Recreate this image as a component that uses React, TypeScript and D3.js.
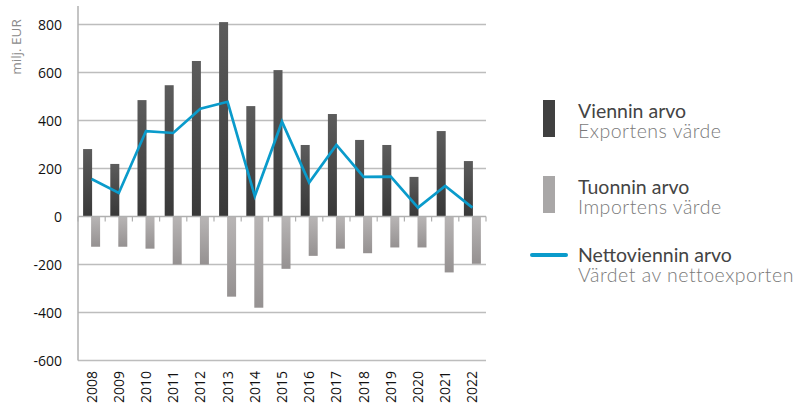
import React, { useEffect, useRef } from "react";
import * as d3 from "d3";

const years = ["2008", "2009", "2010", "2011", "2012", "2013", "2014", "2015", "2016", "2017", "2018", "2019", "2020", "2021", "2022"];
const exports = [281, 219, 485, 547, 648, 810, 460, 610, 298, 427, 319, 298, 165, 356, 231];
const imports = [-126, -126, -134, -200, -200, -334, -380, -218, -164, -134, -153, -129, -129, -233, -197];
const net = [156, 98, 356, 348, 449, 478, 85, 395, 141, 298, 165, 166, 37, 127, 37];
const yTicks = [800, 600, 400, 200, 0, -200, -400, -600];

const legendItems = [
  { fi: "Viennin arvo", sv: "Exportens värde", kind: "bar", color: "#404040" },
  { fi: "Tuonnin arvo", sv: "Importens värde", kind: "bar", color: "#a9a7a7" },
  { fi: "Nettoviennin arvo", sv: "Värdet av nettoexporten", kind: "line", color: "#0a9bcb" },
];

const App = () => {
  const svgRef = useRef<SVGSVGElement>(null);

  useEffect(() => {
    const svg = d3.select(svgRef.current);
    svg.selectAll("*").remove();

    const margin = { left: 78, right: 486, top: 6 };
    const x = d3.scaleBand().domain(years).range([margin.left, margin.right]).padding(0);
    const y = d3.scaleLinear().domain([-600, 800]).range([360.5, 24.5]);

    const defs = svg.append("defs");
    const g1 = defs.append("linearGradient").attr("id", "expGrad").attr("x1", 0).attr("y1", 0).attr("x2", 0).attr("y2", 1);
    g1.append("stop").attr("offset", "0%").attr("stop-color", "#5c5c5c");
    g1.append("stop").attr("offset", "100%").attr("stop-color", "#383838");
    const g2 = defs.append("linearGradient").attr("id", "impGrad").attr("x1", 0).attr("y1", 0).attr("x2", 0).attr("y2", 1);
    g2.append("stop").attr("offset", "0%").attr("stop-color", "#b8b5b5");
    g2.append("stop").attr("offset", "100%").attr("stop-color", "#959191");

    // gridlines
    svg.append("g")
      .selectAll("line")
      .data(yTicks.filter(d => d !== 0))
      .join("line")
      .attr("x1", margin.left)
      .attr("x2", margin.right)
      .attr("y1", d => y(d))
      .attr("y2", d => y(d))
      .attr("stroke", "#bdbdbd")
      .attr("stroke-width", 1.5);

    // y axis line
    svg.append("line")
      .attr("x1", margin.left).attr("x2", margin.left)
      .attr("y1", margin.top).attr("y2", y(-600))
      .attr("stroke", "#b0b0b0").attr("stroke-width", 1.5);

    svg.append("g")
      .selectAll("text")
      .data(yTicks)
      .join("text")
      .attr("x", 62)
      .attr("y", d => y(d) + 5)
      .attr("text-anchor", "end")
      .attr("font-family", "Open Sans")
      .attr("font-size", 14)
      .attr("fill", "#111")
      .text(d => d);

    svg.append("text")
      .attr("transform", "translate(21,47) rotate(-90)")
      .attr("text-anchor", "middle")
      .attr("font-family", "Open Sans")
      .attr("font-size", 13.5)
      .attr("fill", "#8a8a8a")
      .text("milj. EUR");

    const bw = 9;
    const off = 4;

    svg.append("g")
      .selectAll("rect")
      .data(exports)
      .join("rect")
      .attr("x", (d, i) => x(years[i])! + x.bandwidth() / 2 - off - bw / 2)
      .attr("y", d => y(d))
      .attr("width", bw)
      .attr("height", d => y(0) - y(d))
      .attr("fill", "url(#expGrad)");

    svg.append("g")
      .selectAll("rect")
      .data(imports)
      .join("rect")
      .attr("x", (d, i) => x(years[i])! + x.bandwidth() / 2 + off - bw / 2)
      .attr("y", y(0))
      .attr("width", bw)
      .attr("height", d => y(d) - y(0))
      .attr("fill", "url(#impGrad)");

    // zero axis with ticks
    svg.append("line")
      .attr("x1", margin.left).attr("x2", margin.right)
      .attr("y1", y(0)).attr("y2", y(0))
      .attr("stroke", "#b0b0b0").attr("stroke-width", 1.5);
    const bounds = years.map(yr => x(yr)!).concat([margin.right]);
    svg.append("g")
      .selectAll("line")
      .data(bounds)
      .join("line")
      .attr("x1", d => d).attr("x2", d => d)
      .attr("y1", y(0)).attr("y2", y(0) + 5)
      .attr("stroke", "#b0b0b0").attr("stroke-width", 1.2);

    const line = d3.line<number>()
      .x((d, i) => x(years[i])! + x.bandwidth() / 2)
      .y(d => y(d));
    svg.append("path")
      .datum(net)
      .attr("fill", "none")
      .attr("stroke", "#0a9bcb")
      .attr("stroke-width", 2.7)
      .attr("stroke-linejoin", "miter")
      .attr("d", line);

    svg.append("g")
      .selectAll("text")
      .data(years)
      .join("text")
      .attr("transform", d => `translate(${x(d)! + x.bandwidth() / 2 + 5},${403}) rotate(-90)`)
      .attr("font-family", "Open Sans")
      .attr("font-size", 14)
      .attr("fill", "#111")
      .text(d => d);

    // legend
    const lg = svg.append("g");
    legendItems.forEach((it, i) => {
      const top = 100 + i * 76;
      if (it.kind === "bar") {
        lg.append("rect").attr("x", 543).attr("y", top).attr("width", 12).attr("height", 37).attr("fill", it.color);
      } else {
        lg.append("line").attr("x1", 532).attr("x2", 566).attr("y1", 255).attr("y2", 255)
          .attr("stroke", it.color).attr("stroke-width", 4).attr("stroke-linecap", "round");
      }
      const base = i === 2 ? 262 : top + 18;
      lg.append("text").attr("x", 578).attr("y", base)
        .attr("font-family", "Lato").attr("font-size", 19.5).attr("font-weight", 400).attr("fill", "#444")
        .text(it.fi);
      lg.append("text").attr("x", 578).attr("y", base + 20)
        .attr("font-family", "Lato").attr("font-size", 19.5).attr("font-weight", 300)
        .attr("letter-spacing", 0.5).attr("fill", "#7a7a7a")
        .text(it.sv);
    });
  }, []);

  return (
    <svg ref={svgRef} width={802} height={405} style={{ position: "absolute", left: 0, top: 0, background: "#fff" }} />
  );
};

export default App;
